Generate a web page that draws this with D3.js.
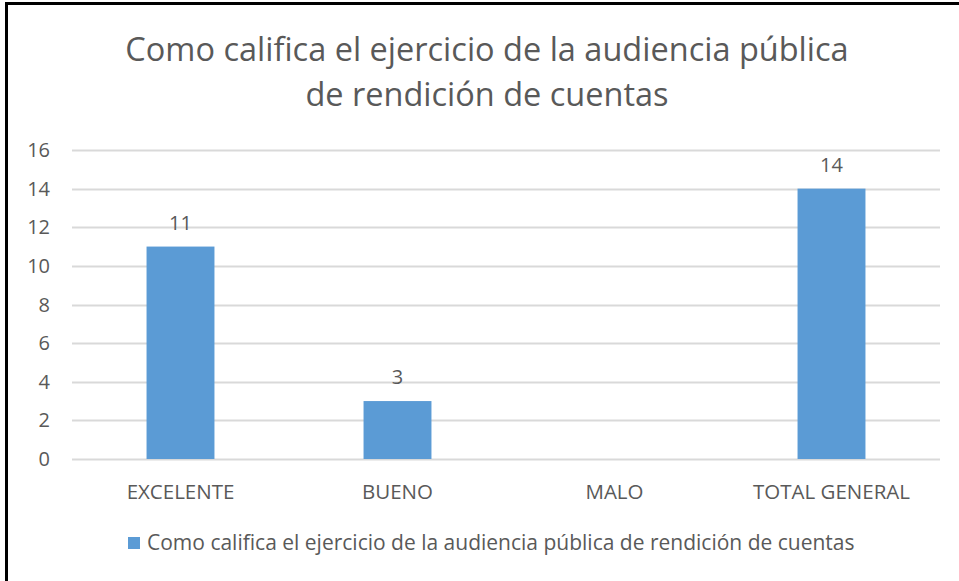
<!DOCTYPE html>
<html>
<head>
<meta charset="utf-8">
<script src="https://cdn.jsdelivr.net/npm/d3@7"></script>
<style>
  body { margin: 0; background: #fff; }
  text { font-family: "Open Sans", "Noto Sans", sans-serif; fill: #595959; }
</style>
</head>
<body>
<div id="chart"></div>
<script>
// data
const categories = ['EXCELENTE', 'BUENO', 'MALO', 'TOTAL GENERAL'];
const values = [11, 3, 0, 14];
const yTicks = [0, 2, 4, 6, 8, 10, 12, 14, 16];
const titleLines = ['Como califica el ejercicio de la audiencia pública', 'de rendición de cuentas'];
const seriesName = 'Como califica el ejercicio de la audiencia pública de rendición de cuentas';

const W = 959, H = 581;
const M = { left: 72, right: 19, top: 150, bottom: 122 };
const BLUE = '#5B9BD5';

const svg = d3.select('#chart').append('svg')
	.attr('width', W)
	.attr('height', H);

// frame (only left/top edges show in the crop)
svg.append('path')
	.attr('d', `M6.5,${H} V3.5 H${W}`)
	.attr('fill', 'none')
	.attr('stroke', '#000')
	.attr('stroke-width', 3);

const x = d3.scaleBand()
	.domain(categories)
	.range([M.left, W - M.right])
	.paddingInner(0.687)
	.paddingOuter(0.687 / 2);

const y = d3.scaleLinear()
	.domain([0, 16])
	.range([H - M.bottom, M.top]);

// title
svg.append('g').selectAll('text')
	.data(titleLines)
	.enter()
	.append('text')
	.attr('x', 487)
	.attr('y', (d, i) => 61 + i * 45)
	.attr('text-anchor', 'middle')
	.style('font-size', '32.5px')
	.text(d => d);

// gridlines
svg.append('g').selectAll('line')
	.data(yTicks)
	.enter()
	.append('line')
	.attr('x1', M.left)
	.attr('x2', W - M.right)
	.attr('y1', d => Math.round(y(d)) + 0.5)
	.attr('y2', d => Math.round(y(d)) + 0.5)
	.attr('stroke', '#D9D9D9')
	.attr('stroke-width', 2);

// y tick labels
svg.append('g').selectAll('text')
	.data(yTicks)
	.enter()
	.append('text')
	.attr('x', 50)
	.attr('y', d => y(d))
	.attr('dy', '0.35em')
	.attr('text-anchor', 'end')
	.style('font-size', '20px')
	.text(d => d);

// bars
svg.append('g').selectAll('rect')
	.data(values)
	.enter()
	.append('rect')
	.attr('x', (d, i) => x(categories[i]))
	.attr('width', x.bandwidth())
	.attr('y', d => y(d))
	.attr('height', d => y(0) - y(d))
	.attr('fill', BLUE);

// value labels (skip zero)
svg.append('g').selectAll('text')
	.data(values.map((v, i) => ({ v, c: categories[i] })).filter(d => d.v > 0))
	.enter()
	.append('text')
	.attr('x', d => x(d.c) + x.bandwidth() / 2)
	.attr('y', d => y(d.v) - 17)
	.attr('text-anchor', 'middle')
	.style('font-size', '20px')
	.text(d => d.v);

// category labels
svg.append('g').selectAll('text')
	.data(categories)
	.enter()
	.append('text')
	.attr('x', d => x(d) + x.bandwidth() / 2)
	.attr('y', 499)
	.attr('text-anchor', 'middle')
	.style('font-size', '20.5px')
	.text(d => d);

// legend
const legend = svg.append('g').attr('transform', 'translate(128,537)');
legend.append('rect')
	.attr('width', 12)
	.attr('height', 12)
	.attr('fill', BLUE);
legend.append('text')
	.attr('x', 19)
	.attr('y', 6)
	.attr('dy', '0.35em')
	.style('font-size', '21px')
	.text(seriesName);
</script>
</body>
</html>
